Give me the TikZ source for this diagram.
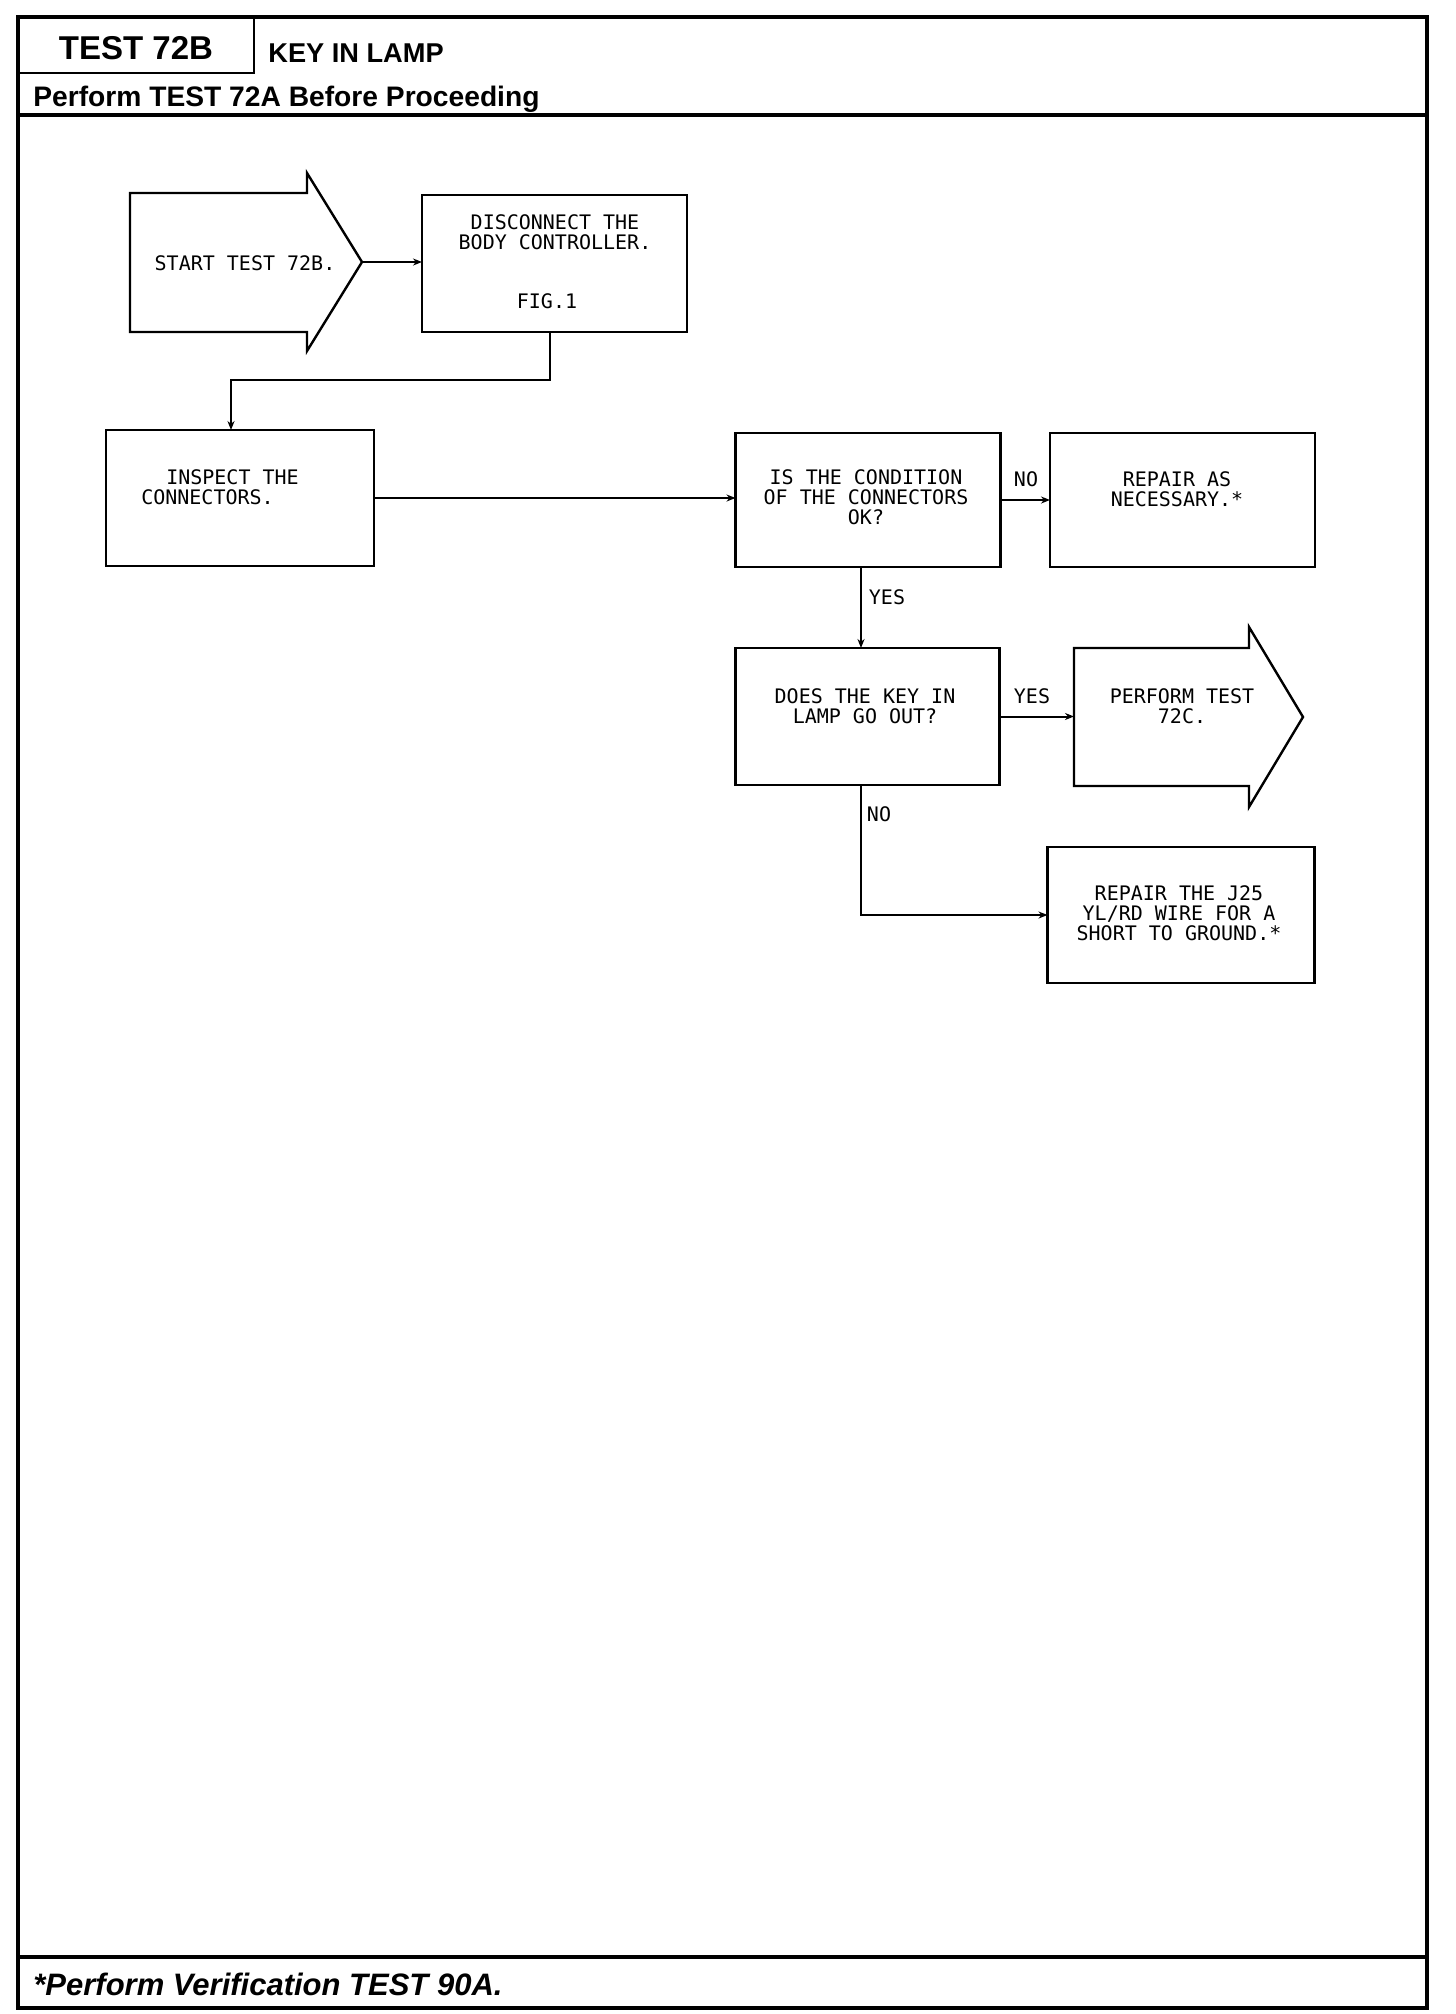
\documentclass[tikz,border=0pt]{standalone}
\usepackage{fontspec}
\setmainfont{Liberation Sans}
\newfontfamily\plotfont{DejaVu Sans Mono}
\usetikzlibrary{arrows.meta}
\begin{document}
\begin{tikzpicture}[x=0.5pt,y=-0.5pt,
  frame/.style={line width=1.6pt},
  box/.style={draw, line width=1.2pt, inner sep=0pt, outer sep=0pt},
  txt/.style={font=\plotfont\fontsize{10}{10}\selectfont, align=center, inner sep=0pt},
  conn/.style={line width=1pt, -{Stealth[length=4.5pt,width=3.5pt]}},
  head/.style={font=\bfseries\fontsize{13.6}{16}\selectfont, inner sep=0pt, anchor=base west}]
\fill[white] (0,0) rectangle (1456,2014);
\useasboundingbox (0,0) rectangle (1456,2014);
% frame
\draw[frame] (18,17) rectangle (1427,2008);
\draw[line width=2pt] (18,115) -- (1427,115);
\draw[line width=2pt] (18,1957) -- (1427,1957);
\draw[line width=1.2pt] (254,17) -- (254,73) -- (18,73);
\node[font=\bfseries\fontsize{16.5}{18}\selectfont, inner sep=0pt, anchor=base] (title) at (136,59) {TEST 72B};
\node[head] (keylamp) at (268,62) {KEY IN LAMP};
\node[head, font=\bfseries\fontsize{14.1}{16}\selectfont] (pre) at (33,106) {Perform TEST 72A Before Proceeding};
\node[font=\bfseries\itshape\fontsize{15.5}{17}\selectfont, inner sep=0pt, anchor=base west] (foot) at (33,1995) {*Perform Verification TEST 90A.};
% start arrow
\draw[box] (130,193) -- (307,193) -- (307,173) -- (362,262) -- (307,351) -- (307,332) -- (130,332) -- cycle;
\coordinate (starttip) at (362,262);
\node[txt] (startt) at (245,263) {START TEST 72B.};
% disconnect
\node[box, minimum width=132.5pt, minimum height=68.5pt] (disc) at (554.5,263.5) {};
\node[txt] (disct) at (555,232) {DISCONNECT THE\\BODY CONTROLLER.};
\node[txt] (fig) at (547,301) {FIG.1};
% inspect
\node[box, minimum width=134pt, minimum height=68pt] (insp) at (240,498) {};
\node[txt, align=left] (inspt) at (220,487) {\hspace*{12.5pt}INSPECT THE\\CONNECTORS.};
% condition
\node[box, minimum width=132.5pt, minimum height=67pt] (cond) at (868,500) {};
\node[txt] (condt) at (866,497) {IS THE CONDITION\\OF THE CONNECTORS\\OK?};
% repair 1
\node[box, minimum width=132.5pt, minimum height=67pt] (rep1) at (1182.5,500) {};
\node[txt] (rep1t) at (1177,489) {REPAIR AS\\NECESSARY.*};
% decision
\node[box, minimum width=132pt, minimum height=68.5pt] (dec) at (867.5,716.5) {};
\node[txt] (dect) at (865,706) {DOES THE KEY IN\\LAMP GO OUT?};
% perform arrow
\draw[box] (1074,648) -- (1249,648) -- (1249,627) -- (1303,717) -- (1249,807) -- (1249,786) -- (1074,786) -- cycle;
\coordinate (perfin) at (1074,717);
\node[txt] (perft) at (1182,706) {PERFORM TEST\\72C.};
% repair 2
\node[box, minimum width=133.5pt, minimum height=68pt] (rep2) at (1181,915) {};
\node[txt] (rep2t) at (1179,913) {REPAIR THE J25\\YL/RD WIRE FOR A\\SHORT TO GROUND.*};
% connectors
\draw[conn] (starttip) -- (starttip -| disc.west);
\coordinate (bend1) at (549.5,380);
\draw[conn] ([xshift=-2.5pt]disc.south) -- (bend1) -| ([xshift=-4.5pt]insp.north);
\draw[conn] (insp.east) -- (insp.east -| cond.west);
\draw[conn] (cond.east) -- (cond.east -| rep1.west);
\coordinate (c1) at ([xshift=-3.5pt]cond.south);
\draw[conn] (c1) -- (c1 |- dec.north);
\draw[conn] (dec.east) -- (dec.east -| perfin);
\coordinate (d1) at ([xshift=-3.5pt]dec.south);
\draw[conn] (d1) |- (rep2.west);
% labels
\node[txt] (lno1) at (1026,479) {NO};
\node[txt] (lyes1) at (887,597) {YES};
\node[txt] (lyes2) at (1032,696) {YES};
\node[txt] (lno2) at (879,814) {NO};
\end{tikzpicture}
\end{document}
